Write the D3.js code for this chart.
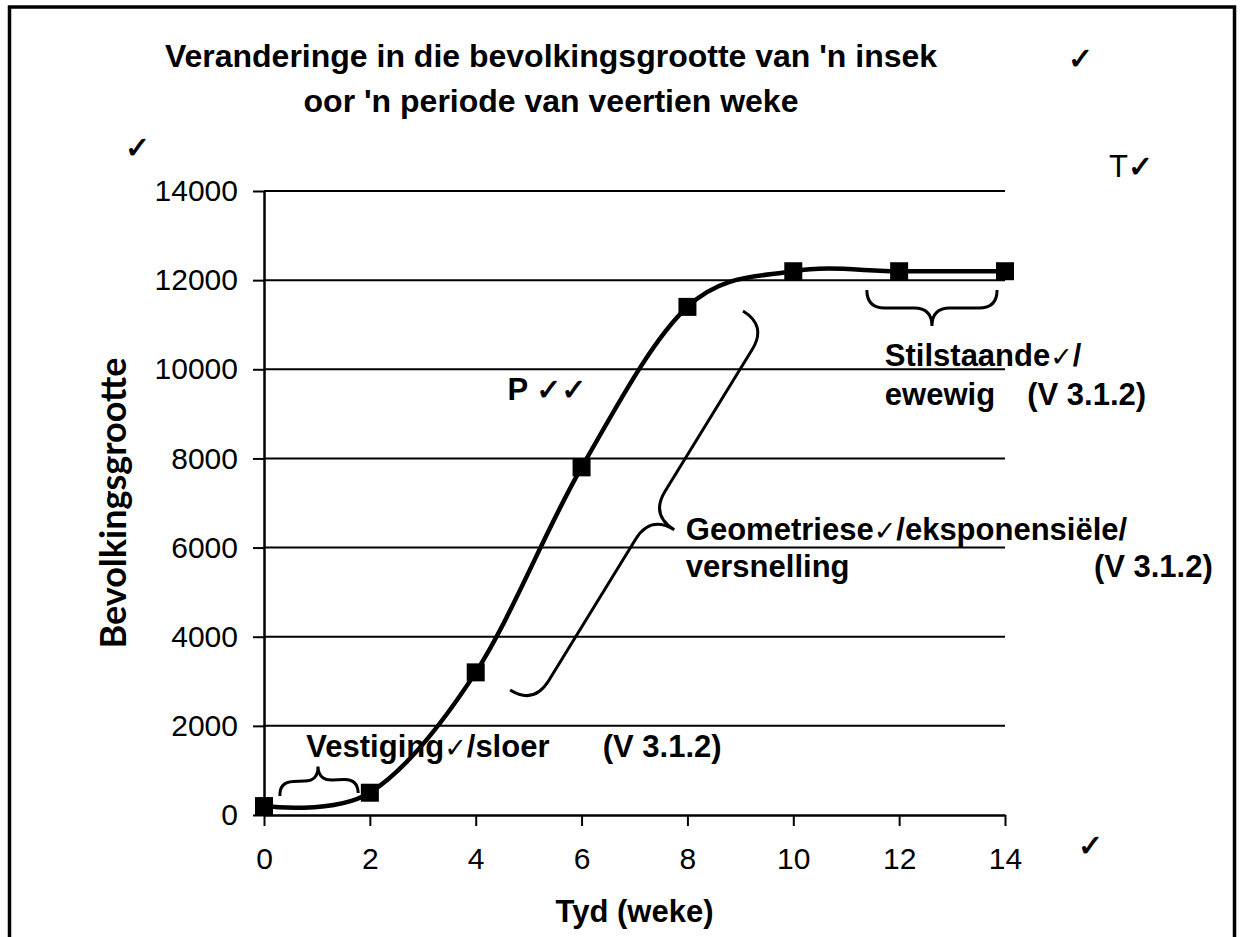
<!DOCTYPE html>
<html>
<head>
<meta charset="utf-8">
<script src="https://cdn.jsdelivr.net/npm/d3@7"></script>
<style>
  html, body { margin: 0; padding: 0; background: #fff; }
  svg { display: block; }
  .tick text { font-family: 'Liberation Sans', Arial, sans-serif; font-size: 30px; fill: #000; }
  .bold { font-family: 'Liberation Sans', Arial, sans-serif; font-weight: bold; font-size: 31px; fill: #000; }
  .tick-mark { font-family: 'DejaVu Sans', sans-serif; font-weight: normal; }
</style>
</head>
<body>
<div id="chart"></div>
<script>
// chart data
const weeks = [0, 2, 4, 6, 8, 10, 12, 14];
const population = [200, 500, 3200, 7800, 11400, 12200, 12200, 12200];
const yTicks = [0, 2000, 4000, 6000, 8000, 10000, 12000, 14000];
const xTicks = [0, 2, 4, 6, 8, 10, 12, 14];
const titleLines = ["Veranderinge in die bevolkingsgrootte van 'n insek", "oor 'n periode van veertien weke"];
const xTitle = 'Tyd (weke)';
const yTitle = 'Bevolkingsgrootte';

const width = 1243, height = 937;
const margin = { top: 191, right: 238, bottom: 122, left: 264 };

const svg = d3.select('#chart').append('svg')
    .attr('width', width)
    .attr('height', height);

// outer frame
svg.append('rect')
    .attr('x', 9.5).attr('y', 7)
    .attr('width', 1225).attr('height', 1000)
    .attr('fill', 'none')
    .attr('stroke', '#000')
    .attr('stroke-width', 3.5);

const x = d3.scaleLinear().domain([0, 14]).range([margin.left, width - margin.right]);
const y = d3.scaleLinear().domain([0, 14000]).range([height - margin.bottom, margin.top]);

// gridlines
svg.append('g')
    .selectAll('line')
    .data(yTicks.filter(d => d > 0))
    .enter()
    .append('line')
    .attr('x1', x(0)).attr('x2', x(14))
    .attr('y1', d => y(d)).attr('y2', d => y(d))
    .attr('stroke', '#000')
    .attr('stroke-width', 2);

const yAxis = svg.append('g')
    .attr('transform', 'translate(' + x(0) + ',0)')
    .call(d3.axisLeft(y).tickValues(yTicks).tickSize(11).tickSizeOuter(0).tickPadding(15).tickFormat(d3.format('d')));

const xAxis = svg.append('g')
    .attr('transform', 'translate(0,' + y(0) + ')')
    .call(d3.axisBottom(x).tickValues(xTicks).tickSize(11).tickSizeOuter(0).tickPadding(22));

[xAxis, yAxis].forEach(function (a) {
    a.select('.domain').attr('stroke', '#000').attr('stroke-width', 2.5);
    a.selectAll('.tick line').attr('stroke', '#000').attr('stroke-width', 2);
});

// the series
const line = d3.line()
    .x((d, i) => x(weeks[i]))
    .y(d => y(d))
    .curve(d3.curveCatmullRom.alpha(0));

svg.append('path')
    .datum(population)
    .attr('d', line)
    .attr('fill', 'none')
    .attr('stroke', '#000')
    .attr('stroke-width', 4.5);

const ms = 18;
svg.append('g')
    .selectAll('rect')
    .data(population)
    .enter()
    .append('rect')
    .attr('x', (d, i) => x(weeks[i]) - ms / 2)
    .attr('y', d => y(d) - ms / 2)
    .attr('width', ms)
    .attr('height', ms)
    .attr('fill', '#000');

// titles
svg.append('g')
    .selectAll('text')
    .data(titleLines)
    .enter()
    .append('text')
    .attr('class', 'bold')
    .style('font-size', '32px')
    .attr('x', 551)
    .attr('y', (d, i) => 67 + i * 45)
    .attr('text-anchor', 'middle')
    .text(d => d);

svg.append('text')
    .attr('class', 'bold')
    .attr('x', (x(0) + x(14)) / 2)
    .attr('y', 922)
    .attr('text-anchor', 'middle')
    .text(xTitle);

svg.append('text')
    .attr('transform', 'translate(126,' + y(7000) + ') rotate(-90)')
    .attr('text-anchor', 'middle')
    .style('font-family', 'Lato, sans-serif')
    .style('font-weight', 'bold')
    .style('font-size', '36px')
    .text(yTitle);

// braces, endpoints in data units, depth in px
function brace(a, b, w) {
    const ax = x(a[0]), ay = y(a[1]), bx = x(b[0]), by = y(b[1]);
    const len = Math.hypot(bx - ax, by - ay);
    const ux = (bx - ax) / len, uy = (by - ay) / len;
    const nx = uy, ny = -ux;
    const mx = (ax + bx) / 2, my = (ay + by) / 2;
    const p = d3.path();
    p.moveTo(ax, ay);
    p.quadraticCurveTo(ax + nx * w, ay + ny * w, ax + nx * w + ux * w, ay + ny * w + uy * w);
    p.lineTo(mx + nx * w - ux * w, my + ny * w - uy * w);
    p.quadraticCurveTo(mx + nx * w, my + ny * w, mx + nx * 2 * w, my + ny * 2 * w);
    p.quadraticCurveTo(mx + nx * w, my + ny * w, mx + nx * w + ux * w, my + ny * w + uy * w);
    p.lineTo(bx + nx * w - ux * w, by + ny * w - uy * w);
    p.quadraticCurveTo(bx + nx * w, by + ny * w, bx, by);
    return p.toString();
}

const braces = [
    { a: [0.3, 426], b: [1.78, 494], w: 14 },
    { a: [13.85, 11779], b: [11.39, 11779], w: 18 },
    { a: [9.05, 11308], b: [4.65, 2805], w: 28 }
];

svg.append('g')
    .selectAll('path')
    .data(braces)
    .enter()
    .append('path')
    .attr('d', d => brace(d.a, d.b, d.w))
    .attr('fill', 'none')
    .attr('stroke', '#000')
    .attr('stroke-width', 3);

// marking annotations
const check = '\u2713';
const notes = [
    { at: [0.8, 1300], parts: ['Vestiging', check, '/sloer'] },
    { at: [6.4, 1300], parts: ['(V 3.1.2)'] },
    { at: [4.6, 9300], parts: ['P ', check, check], heavy: true },
    { at: [7.97, 6170], parts: ['Geometriese', check, '/eksponensiële/'] },
    { at: [7.97, 5340], parts: ['versnelling'] },
    { at: [15.68, 5340], parts: ['(V 3.1.2)'] },
    { at: [11.73, 10074], parts: ['Stilstaande', check, '/'] },
    { at: [11.73, 9199], parts: ['ewewig'] },
    { at: [14.42, 9199], parts: ['(V 3.1.2)'] }
];

notes.forEach(function (n) {
    const t = svg.append('text')
        .attr('class', 'bold')
        .attr('x', x(n.at[0]))
        .attr('y', y(n.at[1]));
    n.parts.forEach(function (s) {
        const sp = t.append('tspan').text(s);
        if (s === check) {
            sp.attr('class', 'tick-mark').style('font-size', n.heavy ? '30px' : '27px');
            if (n.heavy) sp.attr('stroke', '#000').attr('stroke-width', 0.9);
        }
    });
});

// loose ticks from the marker
const marks = [
    { px: 1068, py: 69, s: check },
    { px: 125, py: 158, s: check },
    { px: 1078, py: 856, s: check }
];
svg.append('g')
    .selectAll('text')
    .data(marks)
    .enter()
    .append('text')
    .attr('class', 'tick-mark')
    .attr('x', d => d.px)
    .attr('y', d => d.py)
    .attr('stroke', '#000')
    .attr('stroke-width', 0.9)
    .style('font-size', '30px')
    .text(d => d.s);

const tMark = svg.append('text')
    .attr('x', 1109)
    .attr('y', 177)
    .style('font-family', "'Liberation Sans', Arial, sans-serif")
    .style('font-size', '31px');
tMark.append('tspan').text('T');
tMark.append('tspan').attr('class', 'tick-mark').attr('stroke', '#000').attr('stroke-width', 0.9).style('font-size', '30px').text(check);
</script>
</body>
</html>
